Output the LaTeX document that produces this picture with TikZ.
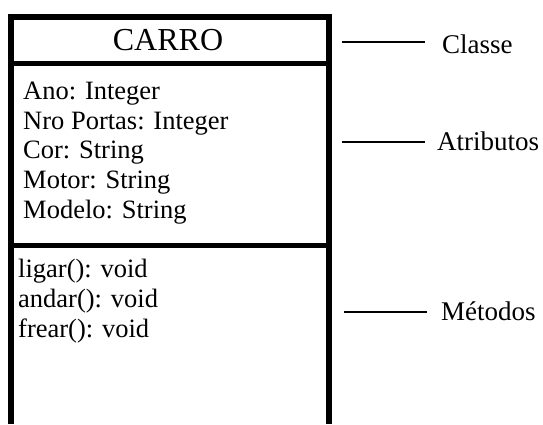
\documentclass[tikz,border=0pt]{standalone}
\usepackage{fontspec}
\setmainfont{Liberation Serif}
\begin{document}
\begin{tikzpicture}[x=1pt,y=-1pt,
  frame/.style={line width=6pt},
  divider/.style={line width=5pt},
  leader/.style={line width=1.5pt},
  member/.style={anchor=base west, inner sep=0pt, font=\fontsize{26.5}{30}\selectfont},
  tag/.style={anchor=base west, inner sep=0pt, font=\fontsize{27}{30}\selectfont}]
\useasboundingbox[fill=white] (0,0) rectangle (543,424);

% class box (open at the bottom, runs off the page)
\draw[frame] (11,424) -- (11,17) -- (329,17) -- (329,424);
\draw[divider] (11,63) -- (329,63);
\draw[divider] (11,245) -- (329,245);

% class name
\node[anchor=base, inner sep=0pt, font=\fontsize{32}{36}\selectfont] (name) at (168,50) {CARRO};

% attributes
\node[member] (a1) at (23,99)  {Ano: Integer};
\node[member] (a2) at (23,129) {Nro Portas: Integer};
\node[member] (a3) at (23,158) {Cor: String};
\node[member] (a4) at (23,188) {Motor: String};
\node[member] (a5) at (23,218) {Modelo: String};

% methods
\node[member] (m1) at (18,277) {ligar(): void};
\node[member] (m2) at (18,307) {andar(): void};
\node[member] (m3) at (18,337) {frear(): void};

% side labels with leader lines
\node[tag] (classe) at (442,53)  {Classe};
\node[tag] (atrib)  at (437,150) {Atributos};
\node[tag] (metod)  at (441,320) {Métodos};

\coordinate (l1) at (342,42);
\coordinate (l2) at (342,142);
\coordinate (l3) at (344,312);
\draw[leader, shorten >=17pt] (l1) -- (l1 -| classe.west);
\draw[leader, shorten >=12pt] (l2) -- (l2 -| atrib.west);
\draw[leader, shorten >=14pt] (l3) -- (l3 -| metod.west);
\end{tikzpicture}
\end{document}
